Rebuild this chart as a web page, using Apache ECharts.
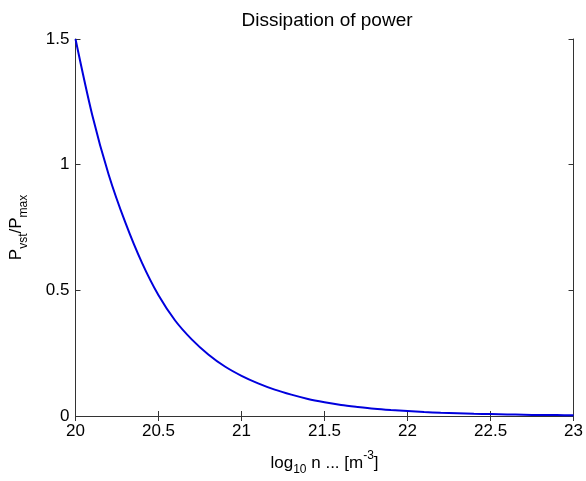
<!DOCTYPE html>
<html>
<head>
<meta charset="utf-8">
<script src="https://cdn.jsdelivr.net/npm/echarts@6/dist/echarts.min.js"></script>
<style>html,body{margin:0;padding:0;background:#fff;}#c{width:586px;height:481px;}</style>
</head>
<body>
<div id="c"></div>
<script>
const xValues = [20.0,20.1,20.2,20.3,20.4,20.5,20.6,20.7,20.8,20.9,21.0,21.1,21.2,21.3,21.4,21.5,21.6,21.7,21.8,21.9,22.0,22.1,22.2,22.3,22.4,22.5,22.6,22.7,22.8,22.9,23.0];
const powerRatio = [1.50,1.20,0.96,0.77,0.61,0.48,0.38,0.305,0.245,0.197,0.16,0.13,0.105,0.085,0.068,0.055,0.044,0.036,0.029,0.024,0.020,0.016,0.013,0.011,0.009,0.0075,0.006,0.005,0.004,0.0035,0.003];
const xTicks = [20, 20.5, 21, 21.5, 22, 22.5, 23];
const yTicks = [0, 0.5, 1, 1.5];

const data = xValues.map((x, i) => [x, powerRatio[i]]);
const font = 'Liberation Sans, Arial, sans-serif';
const axisColor = '#333';
const chart = echarts.init(document.getElementById('c'));
const common = {
  axisLine: {show: true, lineStyle: {color: axisColor, width: 1}},
  axisTick: {show: true, inside: true, length: 5, lineStyle: {color: axisColor}},
  splitLine: {show: false}
};
chart.setOption({
  backgroundColor: '#fff',
  animation: false,
  title: {
    text: 'Dissipation of power',
    left: 322, top: 6, textAlign: 'center',
    textStyle: {fontFamily: font, fontSize: 19, fontWeight: 'normal', color: '#000'}
  },
  grid: {left: 73, right: 10, top: 39, bottom: 58},
  xAxis: [
    Object.assign({
      type: 'value', position: 'bottom', min: xTicks[0], max: xTicks[xTicks.length-1], interval: 0.5,
      axisLabel: {fontFamily: font, fontSize: 17, color: '#000', margin: 7},
      name: '{n|log}{sub|10}{n| n ... [m}{sup|-3}{n|]}',
      nameLocation: 'middle', nameGap: 34,
      nameTextStyle: {
        fontFamily: font, color: '#000',
        rich: {
          n: {fontFamily: font, fontSize: 17, color: '#000', lineHeight: 26, verticalAlign: 'middle'},
          sub: {fontFamily: font, fontSize: 12, color: '#000', lineHeight: 26, verticalAlign: 'bottom'},
          sup: {fontFamily: font, fontSize: 12, color: '#000', lineHeight: 26, verticalAlign: 'top'}
        }
      }
    }, common),
    Object.assign({
      type: 'value', position: 'top', min: xTicks[0], max: xTicks[xTicks.length-1], interval: 0.5,
      axisLabel: {show: false}
    }, common)
  ],
  yAxis: [
    Object.assign({
      type: 'value', position: 'left', min: yTicks[0], max: yTicks[yTicks.length-1], interval: 0.5,
      axisLabel: {fontFamily: font, fontSize: 17, color: '#000', margin: 6},
      name: '{n|P}{sub|vst}{n|/P}{sub|max}',
      nameLocation: 'middle', nameGap: 46, nameRotate: 90,
      nameTextStyle: {
        fontFamily: font, color: '#000',
        rich: {
          n: {fontFamily: font, fontSize: 17, color: '#000', lineHeight: 26, verticalAlign: 'middle'},
          sub: {fontFamily: font, fontSize: 12, color: '#000', lineHeight: 26, verticalAlign: 'bottom'}
        }
      }
    }, common),
    Object.assign({
      type: 'value', position: 'right', min: yTicks[0], max: yTicks[yTicks.length-1], interval: 0.5,
      axisLabel: {show: false}
    }, common)
  ],
  series: [{
    type: 'line', data: data, showSymbol: false, smooth: 0.3,
    lineStyle: {color: '#0000dd', width: 2}, itemStyle: {color: '#0000dd'}
  }]
});
</script>
</body>
</html>
